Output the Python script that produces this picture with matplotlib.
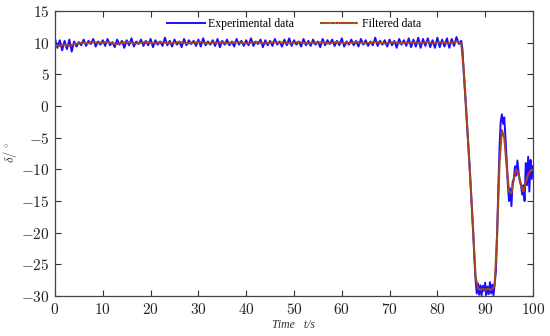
import numpy as np
import matplotlib
matplotlib.use('agg')
import matplotlib.pyplot as plt
import matplotlib.ticker as ticker

plt.rcParams['mathtext.fontset'] = 'cm'

# experimental data: 0-85 s every 0.5 s, then 85-100 s every 0.25 s
t_exp_a = np.arange(0, 85, 0.5)
t_exp_b = np.arange(85, 100.01, 0.25)
exp_a = [10.6, 9.2, 10.4, 8.8, 10.3, 9.0, 10.5, 8.6, 10.2, 9.4,
         10.1, 9.6, 10.5, 9.5, 10.3, 9.8, 10.6, 9.4, 10.2, 9.7,
         10.4, 9.5, 10.6, 9.6, 10.1, 9.3, 10.5, 9.7, 10.3, 9.2,
         10.4, 9.6, 10.7, 9.4, 10.2, 9.8, 10.5, 9.5, 10.3, 9.6,
         10.6, 9.3, 10.4, 9.7, 10.2, 9.5, 10.8, 9.6, 10.3, 9.4,
         10.5, 9.7, 10.2, 9.3, 10.6, 9.6, 10.4, 9.8, 10.3, 9.5,
         10.5, 9.4, 10.7, 9.6, 10.2, 9.7, 10.4, 9.5, 10.6, 9.3,
         10.3, 9.7, 10.5, 9.6, 10.2, 9.4, 10.6, 9.7, 10.3, 9.5,
         10.4, 9.6, 10.7, 9.5, 10.2, 9.8, 10.5, 9.3, 10.4, 9.6,
         10.3, 9.5, 10.6, 9.7, 10.2, 9.4, 10.5, 9.6, 10.7, 9.5,
         10.4, 9.7, 10.2, 9.4, 10.6, 9.6, 10.3, 9.5, 10.5, 9.7,
         10.2, 9.3, 10.6, 9.6, 10.4, 9.8, 10.5, 9.5, 10.3, 9.6,
         10.7, 9.4, 10.2, 9.7, 10.5, 9.6, 10.3, 9.4, 10.6, 9.7,
         10.4, 9.5, 10.2, 9.6, 10.8, 9.5, 10.3, 9.7, 10.4, 9.4,
         10.5, 9.6, 10.3, 9.2, 10.6, 9.7, 10.4, 9.5, 10.7, 9.3,
         10.5, 9.4, 10.8, 9.2, 10.6, 9.5, 10.7, 9.3, 10.4, 9.2,
         10.8, 9.3, 10.5, 9.4, 10.7, 9.2, 10.6, 9.5, 10.9, 9.8]
exp_b = [10.3, 9.0, 5.5, 2.5, -0.5, -3.5, -6.5, -9.5, -13.0, -16.5,
         -20.0, -24.0, -27.5, -29.6, -28.0, -29.8, -28.3, -29.9, -28.4, -29.2,
         -27.9, -29.8, -28.5, -29.7, -27.8, -29.6, -28.2, -29.9, -28.0, -26.0,
         -20.0, -13.0, -6.5, -2.5, -1.3, -2.8, -1.8, -5.0, -8.5, -12.5,
         -15.0, -13.0, -15.8, -12.0, -11.5, -9.5, -11.0, -8.6, -10.5, -11.8,
         -12.5, -14.0, -12.5, -15.0, -9.0, -12.5, -8.0, -13.5, -8.5, -11.5,
         -9.5]

# filtered data: 0-84 s every 1 s, then 84.5-100 s every 0.5 s
t_filt_a = np.arange(0, 85, 1.0)
t_filt_b = np.arange(84.5, 100.01, 0.5)
filt_a = [9.6, 9.5, 9.7, 9.5, 9.8, 9.9, 10.0, 9.9, 10.1, 10.0,
          10.0, 10.1, 9.9, 9.8, 10.0, 10.1, 10.0, 9.9, 10.0, 10.1,
          10.0, 9.9, 10.1, 10.0, 9.9, 10.0, 10.1, 10.0, 9.9, 10.0,
          10.1, 10.0, 9.9, 10.0, 10.0, 10.1, 9.9, 10.0, 10.1, 10.0,
          9.9, 10.0, 10.1, 10.0, 9.9, 10.0, 10.1, 10.0, 10.0, 9.9,
          10.0, 10.1, 10.0, 9.9, 10.0, 10.0, 10.1, 9.9, 10.0, 10.1,
          10.0, 9.9, 10.0, 10.1, 10.0, 9.9, 10.0, 10.1, 10.0, 9.9,
          10.0, 10.1, 9.9, 10.0, 10.0, 10.1, 9.9, 10.0, 10.1, 9.9,
          10.0, 10.1, 9.9, 10.0, 10.2]
filt_b = [10.1, 9.8, 6.0, 0.0, -6.5, -13.0, -20.0, -27.0, -28.8, -29.0,
          -28.9, -29.0, -28.9, -29.0, -28.9, -28.3, -20.5, -9.0, -3.8, -5.0,
          -9.5, -13.5, -13.8, -11.5, -10.0, -10.8, -12.5, -13.5, -12.0, -10.8,
          -10.2, -10.0]

t_exp = np.concatenate([t_exp_a, t_exp_b])
y_exp = np.array(exp_a + exp_b)
t_filt = np.concatenate([t_filt_a, t_filt_b])
y_filt = np.array(filt_a + filt_b)

fig = plt.figure(figsize=(5.5, 3.36), dpi=100)
ax = fig.add_axes([0.1, 0.119, 0.869, 0.848])

ax.plot(t_exp, y_exp, color='#1a0dff', lw=1.4, label='Experimental data', zorder=2)
ax.plot(t_filt, y_filt, color='#8b5a10', lw=1.5, ls=(0, (3, 1.5)), gapcolor='#e0202a',
        label='Filtered data', zorder=3)

ax.set_xlim(0, 100)
ax.set_ylim(-30, 15)
ax.xaxis.set_major_locator(ticker.MultipleLocator(10))
ax.yaxis.set_major_locator(ticker.MultipleLocator(5))
ax.xaxis.set_major_formatter(ticker.FuncFormatter(lambda v, p: r'$%d$' % v))
ax.yaxis.set_major_formatter(ticker.FuncFormatter(lambda v, p: r'$%d$' % v))

ax.tick_params(direction='in', length=4, width=0.8, top=True, right=True,
               labelsize=11, colors='#333333', labelcolor='#222222', pad=4)
for sp in ax.spines.values():
    sp.set_color('#444444')
    sp.set_linewidth(0.9)

ax.set_ylabel(r'$\delta/^\circ$', fontsize=9, color='#333333')
ax.yaxis.set_label_coords(-0.076, 0.505)
ax.set_xlabel('Time   t/s', fontsize=8.5, family='Liberation Serif', style='italic',
              color='#333333', labelpad=2)

ax.legend(loc='upper center', bbox_to_anchor=(0.5, 1.0), ncol=2, frameon=False,
          prop={'family': 'Liberation Serif', 'size': 8.5}, handlelength=3.2,
          columnspacing=2.2, handletextpad=0.3, borderaxespad=0.2)

plt.savefig('out.png', dpi=100)
